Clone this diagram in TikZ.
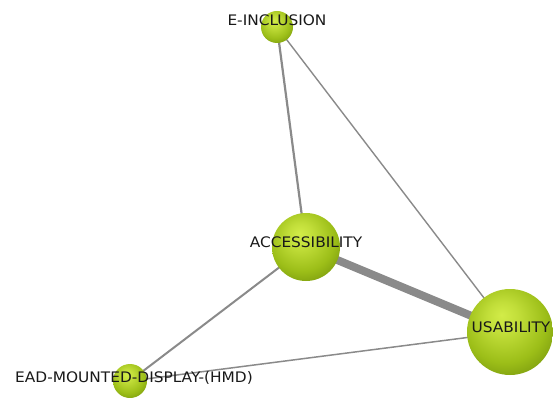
\documentclass[tikz,border=0pt]{standalone}
\usepackage{fontspec}
\setmainfont{DejaVu Sans}
\usetikzlibrary{backgrounds}
\definecolor{ballhl}{HTML}{D2EC48}
\definecolor{ballmid}{HTML}{9CBE18}
\definecolor{balledge}{HTML}{587604}
\definecolor{linkgray}{HTML}{8A8A8A}
\pgfdeclareradialshading{nodeball}{\pgfpoint{-5bp}{10bp}}{color(0bp)=(ballhl); color(9bp)=(ballhl!70!ballmid); color(24bp)=(ballmid); color(44bp)=(balledge); color(62bp)=(balledge!80!black)}
\tikzset{
  kw/.style={circle, inner sep=0pt, minimum size=#1, shading=nodeball, draw=none},
  lbl/.style={font=\fontsize{14.5}{15}\selectfont, text=black!90, inner sep=0pt, xscale=1.06},
  lnk/.style={draw=linkgray, line width=#1},
}
\begin{document}
\begin{tikzpicture}[x=1pt,y=-1pt]
  \path[use as bounding box] (0,0) rectangle (553,398);
  \node[kw=32pt] (e) at (277,27) {};
  \node[kw=68pt] (a) at (306,247) {};
  \node[kw=86pt] (u) at (510,332) {};
  \node[kw=34pt] (h) at (130,381) {};
  \begin{pgfonlayer}{background}
    \draw[lnk=2.2pt] (e.center) -- (a.center);
    \draw[lnk=1.4pt] (e.center) -- (u.center);
    \draw[lnk=8pt] (a.center) -- (u.center);
    \draw[lnk=2pt] (a.center) -- (h.center);
    \draw[lnk=1.5pt] (h.center) -- (u.center);
  \end{pgfonlayer}
  \node[lbl] (le) at (277,20) {E-INCLUSION};
  \node[lbl] (la) at (306,242) {ACCESSIBILITY};
  \node[lbl] (lu) at (511,327) {USABILITY};
  \node[lbl, anchor=west] (lh) at (15,378) {EAD-MOUNTED-DISPLAY-(HMD)};
\end{tikzpicture}
\end{document}
